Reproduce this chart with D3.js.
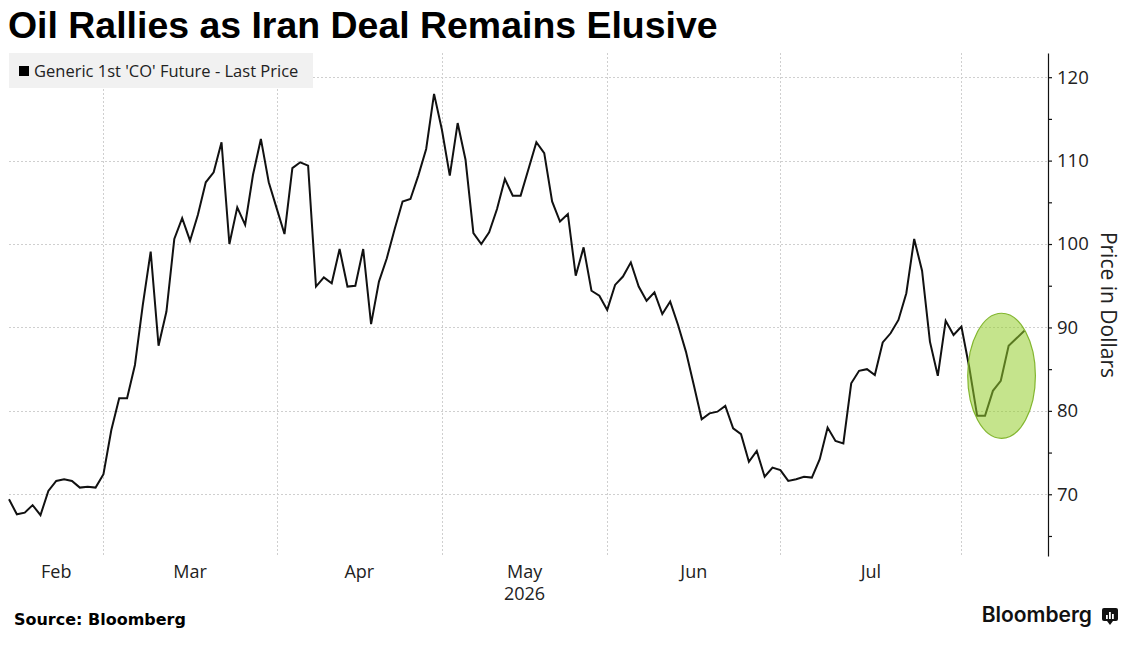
<!DOCTYPE html>
<html>
<head>
<meta charset="utf-8">
<script src="https://cdn.jsdelivr.net/npm/d3@7"></script>
<style>
body { margin: 0; background: #fff; }
svg { display: block; }
</style>
</head>
<body>
<div id="chart"></div>
<script>
// Brent front month closes, one value per trading day starting Feb 12 2026
var prices = [
    69.4, 67.6, 67.8, 68.7, 67.5, 70.4, 71.6, 71.8, 71.6, 70.8, 70.9, 70.8,
    72.4, 77.7, 81.5, 81.5, 85.5, 92.7, 99.1, 87.8, 91.9, 100.6, 103.1, 100.4,
    103.5, 107.4, 108.6, 112.2, 100.0, 104.4, 102.3, 108.3, 112.6, 107.4,
    104.3, 101.2, 109.1, 109.8, 109.4, 94.9, 96.0, 95.3, 99.4, 94.9, 95.0,
    99.4, 90.4, 95.5, 98.3, 101.8, 105.1, 105.4, 108.2, 111.4, 118.0,
    113.7, 108.2, 114.5, 110.1, 101.3, 100.0, 101.4, 104.2, 107.8, 105.8,
    105.8, 109.0, 112.2, 110.9, 105.1, 102.7, 103.6, 96.2, 99.6, 94.4, 93.8,
    92.1, 95.1, 96.1, 97.8, 94.9, 93.2, 94.2, 91.6, 93.1, 90.3, 87.1, 83.1,
    79.0, 79.7, 79.9, 80.6, 77.9, 77.2, 73.9, 75.2, 72.1, 73.2,
    72.9, 71.6, 71.8, 72.1, 72.0, 74.2, 78.0, 76.4, 76.1, 83.3, 84.8, 85.0,
    84.3, 88.2, 89.3, 90.9, 94.1, 100.6, 96.8, 88.3, 84.2, 90.8, 89.1,
    90.1, 85.2, 79.4, 79.4, 82.4, 83.6, 87.8, 88.7, 89.6
];
var firstDay = "2026-02-12";
var holidays = ["2026-04-03"];
var monthLabels = ["Feb", "Mar", "Apr", "May", "Jun", "Jul"];
var yearLabel = "2026";
var yearMonth = "May";
var yTicks = [70, 80, 90, 100, 110, 120];
var yMinorTicks = [65, 75, 85, 95, 105, 115];
var seriesName = "Generic 1st 'CO' Future - Last Price";
var yTitle = "Price in Dollars";
var title = "Oil Rallies as Iran Deal Remains Elusive";
var source = "Source: Bloomberg";
// circled stretch at the end, in trading-day index and price
var circleDays = [121.8, 130.4];
var circlePrices = [76.7, 91.7];

var svgWidth = 1132;
var svgHeight = 646;
var plot = { left: 9, right: 1048, top: 53, bottom: 556 };

var svg = d3.select("#chart")
    .append("svg")
    .attr("width", svgWidth)
    .attr("height", svgHeight);

// trading days (weekdays minus holidays)
var fmtDay = d3.utcFormat("%Y-%m-%d");
var days = [];
var day = d3.utcParse("%Y-%m-%d")(firstDay);
while (days.length < prices.length) {
    var wd = day.getUTCDay();
    if (wd !== 0 && wd !== 6 && holidays.indexOf(fmtDay(day)) < 0) days.push(day);
    day = d3.utcDay.offset(day, 1);
}

// index of the first trading day of each month
var monthStarts = [];
days.forEach(function (d, i) {
    if (i > 0 && d.getUTCMonth() !== days[i - 1].getUTCMonth()) monthStarts.push(i);
});

var x = d3.scaleLinear().domain([0, 132]).range([plot.left, plot.right]);
var y = d3.scaleLinear().domain([62.6, 122.9]).range([plot.bottom, plot.top]);

var grid = svg.append("g")
    .attr("stroke", "#cfcfcf")
    .attr("stroke-width", 1)
    .attr("stroke-dasharray", "2,2");

grid.selectAll(".hgrid")
    .data(yTicks)
    .enter()
    .append("line")
    .attr("x1", plot.left)
    .attr("x2", plot.right)
    .attr("y1", d => Math.round(y(d)) + 0.5)
    .attr("y2", d => Math.round(y(d)) + 0.5);

grid.selectAll(".vgrid")
    .data(monthStarts)
    .enter()
    .append("line")
    .attr("x1", d => Math.round(x(d)) + 0.5)
    .attr("x2", d => Math.round(x(d)) + 0.5)
    .attr("y1", plot.top)
    .attr("y2", plot.bottom);

// legend box
var legend = svg.append("g");
legend.append("rect")
    .attr("x", 9)
    .attr("y", 53)
    .attr("width", 304)
    .attr("height", 35)
    .attr("fill", "#f1f1f1");
legend.append("rect")
    .attr("x", 19)
    .attr("y", 66)
    .attr("width", 10)
    .attr("height", 10)
    .attr("fill", "#000");
legend.append("text")
    .attr("x", 34)
    .attr("y", 77)
    .attr("font-family", "'Open Sans', sans-serif")
    .attr("font-size", 16.5)
    .attr("fill", "#222")
    .text(seriesName);

// price line
var line = d3.line()
    .x((d, i) => x(i))
    .y(d => y(d));

svg.append("path")
    .datum(prices)
    .attr("d", line)
    .attr("fill", "none")
    .attr("stroke", "#111")
    .attr("stroke-width", 2);

// green highlight over the last stretch
svg.append("ellipse")
    .attr("cx", x(d3.mean(circleDays)))
    .attr("cy", y(d3.mean(circlePrices)))
    .attr("rx", (x(circleDays[1]) - x(circleDays[0])) / 2)
    .attr("ry", (y(circlePrices[0]) - y(circlePrices[1])) / 2)
    .attr("fill", "rgba(150,205,45,0.55)")
    .attr("stroke", "rgba(120,175,30,0.9)")
    .attr("stroke-width", 1.2);

// right axis, major + minor ticks
var yAxis = svg.append("g")
    .attr("transform", `translate(${plot.right},0)`)
    .call(d3.axisRight(y).tickValues(yTicks).tickSize(4).tickSizeOuter(0).tickPadding(5).tickFormat(d3.format("d")));
svg.append("g")
    .attr("transform", `translate(${plot.right},0)`)
    .call(d3.axisRight(y).tickValues(yMinorTicks).tickSize(4).tickSizeOuter(0).tickFormat(""))
    .select(".domain").remove();
svg.selectAll(".tick line, .domain").attr("stroke", "#111").attr("stroke-width", 1.2);
yAxis.selectAll("text")
    .attr("font-family", "'Open Sans', sans-serif")
    .attr("font-size", 18.5)
    .attr("fill", "#222");

svg.append("text")
    .attr("transform", "translate(1101,305) rotate(90)")
    .attr("text-anchor", "middle")
    .attr("font-family", "'Open Sans', sans-serif")
    .attr("font-size", 21)
    .attr("fill", "#222")
    .text(yTitle);

// month labels centred in each month's span
var fmtMonth = d3.utcFormat("%b");
var bounds = [0].concat(monthStarts).concat([days.length - 1]);
var monthPos = [];
for (var i = 0; i < bounds.length - 1; i++) {
    var name = fmtMonth(days[bounds[i]]);
    if (monthLabels.indexOf(name) >= 0) monthPos.push({ name: name, c: (bounds[i] + bounds[i + 1]) / 2 });
}
svg.selectAll(".month")
    .data(monthPos)
    .enter()
    .append("text")
    .attr("x", d => x(d.c))
    .attr("y", 578)
    .attr("text-anchor", "middle")
    .attr("font-family", "'Open Sans', sans-serif")
    .attr("font-size", 18)
    .attr("fill", "#222")
    .text(d => d.name);
svg.append("text")
    .attr("x", x(monthPos.find(d => d.name === yearMonth).c))
    .attr("y", 600)
    .attr("text-anchor", "middle")
    .attr("font-family", "'Open Sans', sans-serif")
    .attr("font-size", 18)
    .attr("fill", "#222")
    .text(yearLabel);

// fit a text to a given width
function fitText(sel, width) {
    var w = sel.node().getComputedTextLength();
    var fs = +sel.attr("font-size");
    sel.attr("font-size", fs * width / w);
}

var titleText = svg.append("text")
    .attr("x", 8)
    .attr("y", 38)
    .attr("font-family", "'Liberation Sans', Arial, sans-serif")
    .attr("font-weight", "bold")
    .attr("font-size", 36)
    .attr("fill", "#000")
    .text(title);
fitText(titleText, 710);

var sourceText = svg.append("text")
    .attr("x", 14)
    .attr("y", 625)
    .attr("font-family", "'DejaVu Sans', sans-serif")
    .attr("font-weight", "bold")
    .attr("font-size", 14)
    .attr("fill", "#000")
    .text(source);
fitText(sourceText, 172);

// Bloomberg mark
svg.append("text")
    .attr("x", 1092)
    .attr("y", 622)
    .attr("text-anchor", "end")
    .attr("font-family", "Inter, sans-serif")
    .attr("font-weight", 600)
    .attr("font-size", 21)
    .attr("fill", "#111")
    .text("Bloomberg");
var logo = svg.append("g").attr("transform", "translate(1102,608)");
logo.append("rect").attr("width", 16).attr("height", 13).attr("rx", 2).attr("fill", "#111");
logo.append("path").attr("d", "M5,13 L8,17 L11,13 Z").attr("fill", "#111");
[[4, 7, 4], [7, 4, 7], [10, 6, 5]].forEach(function (b) {
    logo.append("rect").attr("x", b[0]).attr("y", b[1]).attr("width", 1.8).attr("height", b[2]).attr("fill", "#fff");
});
</script>
</body>
</html>
